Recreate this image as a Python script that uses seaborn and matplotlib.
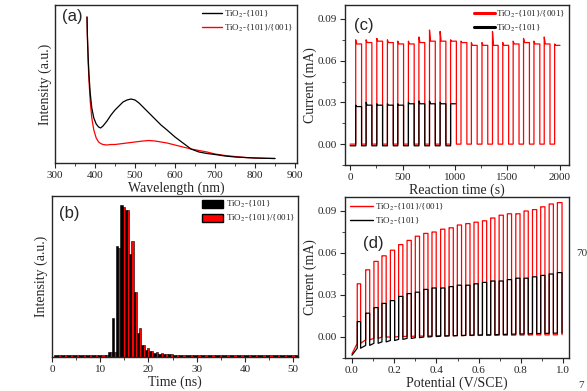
import numpy as np
import pandas as pd
import matplotlib
matplotlib.use("Agg")
import matplotlib.pyplot as plt
import seaborn as sns
from matplotlib.lines import Line2D
from matplotlib.patches import Patch
from matplotlib.ticker import MultipleLocator, NullLocator, FormatStrFormatter

# ---------------- data ----------------
LAB_101 = "TiO$_2$-{101}"
LAB_001 = "TiO$_2$-{101}/{001}"

# (a) PL spectra
wl = [380, 381, 383, 385, 388, 392, 397, 403, 409, 414, 420, 430, 440, 450, 460, 470,
      480, 490, 500, 510, 520, 535, 550, 565, 580, 600, 620, 640, 660, 680, 700, 725,
      750, 775, 800, 825, 850]
pl_101 = [146, 128, 105, 88, 70, 55, 45, 39, 36, 35, 37, 42, 48, 53, 57, 61,
          63, 64, 63, 60, 56, 50, 44, 38, 33, 26, 20, 14, 11, 9.5, 8.5, 7,
          6, 5.5, 5, 4.7, 4.5]
pl_001 = [146, 125, 100, 82, 62, 45, 33, 25, 21, 19.5, 18.5, 18, 18.5, 18.5, 19, 19.5,
          20, 20.5, 21, 21.5, 22, 22.5, 22, 21, 20, 18, 16, 14, 12.5, 11, 9, 7.5,
          6.5, 5.5, 5, 4.7, 4.5]

# (b) lifetime histogram (bin edges in ns, normalised counts)
tr_edges = [0.5, 1.8, 3.1, 4.4, 5.7, 7.0, 8.3, 9.6, 10.9, 11.6, 12.4, 13.3, 14.2, 15.1,
            16.0, 16.9, 17.7, 18.5, 19.3, 20.1, 21.0, 22.0, 23.0, 24.0, 25.0, 26.3,
            27.8, 29.3, 30.8, 32.3, 33.8, 35.3, 36.8, 38.3, 39.8, 41.3, 42.8, 44.3,
            45.8, 47.3, 48.8, 50.3, 51.8]
tr_101 = [0.012, 0.012, 0.012, 0.012, 0.012, 0.012, 0.012, 0.012, 0.012, 0.03, 0.256,
          0.73, 1.00, 0.97, 0.68, 0.43, 0.16, 0.08, 0.043, 0.037, 0.026, 0.022, 0.02,
          0.018, 0.016, 0.015, 0.013, 0.012, 0.012, 0.012, 0.012, 0.012, 0.012, 0.012,
          0.012, 0.012, 0.012, 0.012, 0.012, 0.012, 0.012, 0.012]
tr_001 = [0.014, 0.014, 0.014, 0.014, 0.014, 0.014, 0.014, 0.014, 0.014, 0.03, 0.03,
          0.715, 0.99, 0.97, 0.765, 0.43, 0.19, 0.08, 0.058, 0.04, 0.03, 0.025, 0.02,
          0.018, 0.016, 0.015, 0.014, 0.014, 0.014, 0.014, 0.014, 0.014, 0.014, 0.014,
          0.014, 0.014, 0.014, 0.014, 0.014, 0.014, 0.014, 0.014]

# (c) chopped photocurrent vs time (s, mA)
c_on_t = [54, 153, 255, 356, 455, 556, 656, 757, 858, 958, 1057, 1156, 1257, 1357,
          1455, 1554, 1653, 1752, 1850, 1949]
c_off_t = [110, 208, 310, 412, 510, 611, 712, 812, 913, 1013, 1113, 1211, 1312, 1411,
           1511, 1610, 1709, 1808, 1905, 2000]
c_001_level = [0.072, 0.073, 0.074, 0.073, 0.072, 0.072, 0.073, 0.074, 0.074, 0.074,
               0.073, 0.071, 0.071, 0.071, 0.071, 0.072, 0.073, 0.072, 0.072, 0.071]
c_001_spike = [0.075, 0.075, 0.076, 0.075, 0.074, 0.074, 0.077, 0.082, 0.081, 0.075,
               0.074, 0.073, 0.073, 0.081, 0.073, 0.074, 0.076, 0.074, 0.077, 0.072]
c_001_dark = 0.0
c_001_end = 2000
c_101_level = [0.027, 0.028, 0.028, 0.028, 0.028, 0.029, 0.029, 0.029, 0.029, 0.029]
c_101_spike = [0.028, 0.030, 0.029, 0.029, 0.029, 0.030, 0.031, 0.031, 0.030, 0.029]
c_101_dark = -0.0012
c_101_end = 1005

# (d) chopped linear sweep (V vs SCE, mA)
d_on_v = [0.025, 0.065, 0.104, 0.142, 0.182, 0.221, 0.261, 0.300, 0.340, 0.379, 0.420,
          0.460, 0.499, 0.539, 0.578, 0.618, 0.657, 0.697, 0.736, 0.776, 0.815, 0.855,
          0.894, 0.934, 0.973]
d_off_v = [0.041, 0.084, 0.124, 0.162, 0.202, 0.241, 0.281, 0.320, 0.360, 0.399, 0.440,
           0.480, 0.519, 0.559, 0.598, 0.638, 0.677, 0.717, 0.756, 0.796, 0.835, 0.875,
           0.914, 0.954, 0.995]
d_001_level = [0.038, 0.048, 0.054, 0.058, 0.062, 0.066, 0.069, 0.072, 0.074, 0.075,
               0.077, 0.078, 0.080, 0.081, 0.082, 0.083, 0.085, 0.087, 0.088, 0.088,
               0.090, 0.091, 0.093, 0.095, 0.096]
d_001_dark = [-0.0045, -0.002, -0.001, 0.0, 0.0, 0.0003, 0.0005, 0.0006, 0.0007, 0.0008,
              0.0009, 0.001, 0.001, 0.0011, 0.0011, 0.0012, 0.0012, 0.0013, 0.0013,
              0.0014, 0.0014, 0.0015, 0.0015, 0.0015, 0.0016]
d_001_start = -0.012
d_101_level = [0.011, 0.017, 0.021, 0.024, 0.026, 0.029, 0.031, 0.032, 0.034, 0.035,
               0.035, 0.036, 0.037, 0.037, 0.038, 0.039, 0.040, 0.040, 0.041, 0.042,
               0.042, 0.043, 0.044, 0.045, 0.046]
d_101_dark = [-0.008, -0.006, -0.0045, -0.0035, -0.0025, -0.0017, -0.001, -0.0005, 0.0,
              0.0003, 0.0006, 0.0008, 0.001, 0.0012, 0.0014, 0.0015, 0.0016, 0.0018,
              0.002, 0.0021, 0.0022, 0.0024, 0.0025, 0.0027, 0.0028]
d_101_start = -0.013


def chopped_trace(on, off, level, spike, dark, start, end, settle):
    """Build the on/off step path from pulse times and current levels."""
    xs, ys = [start], [dark[0] if isinstance(dark, list) else dark]
    for k in range(len(on)):
        if on[k] >= end:
            break
        d = dark[k] if isinstance(dark, list) else dark
        xs += [on[k], on[k], on[k] + settle]
        ys += [d, spike[k], level[k]]
        stop = min(off[k], end)
        xs.append(stop)
        ys.append(level[k])
        if off[k] < end:
            xs.append(off[k])
            ys.append(d)
    return pd.DataFrame({"x": xs, "y": ys})


# ---------------- style ----------------
sns.set_style("ticks")
plt.rcParams["font.family"] = ["Liberation Serif", "DejaVu Serif"]
plt.rcParams["mathtext.fontset"] = "stix"
plt.rcParams["axes.linewidth"] = 1.0
plt.rcParams["xtick.direction"] = "out"
plt.rcParams["ytick.direction"] = "out"
plt.rcParams["xtick.major.size"] = 3.5
plt.rcParams["ytick.major.size"] = 3.5
plt.rcParams["xtick.minor.size"] = 2
plt.rcParams["ytick.minor.size"] = 2
plt.rcParams["xtick.major.pad"] = 2
plt.rcParams["ytick.major.pad"] = 2

W, H = 587, 391
fig = plt.figure(figsize=(W / 100, H / 100), dpi=100)


def add_ax(left, top, right, bottom):
    return fig.add_axes([left / W, 1 - bottom / H, (right - left) / W, (bottom - top) / H])


tick_fs = 8
label_fs = 10
leg_fs = 6.5
panel_font = dict(family="Liberation Sans", fontsize=12)
leg_kw = dict(frameon=False, fontsize=leg_fs, labelspacing=0.3)

# ---------------- (a) ----------------
ax = add_ax(55, 5, 297, 163)
sns.lineplot(x=wl, y=pl_001, color="red", lw=0.9, ax=ax)
sns.lineplot(x=wl, y=pl_101, color="black", lw=0.9, ax=ax)
ax.set_xlim(300, 905)
ax.set_ylim(0, 158)
ax.xaxis.set_major_locator(MultipleLocator(100))
ax.xaxis.set_minor_locator(MultipleLocator(50))
ax.yaxis.set_major_locator(NullLocator())
ax.set_xlabel("Wavelength (nm)", fontsize=label_fs, labelpad=1)
ax.set_ylabel("Intensity (a.u.)", fontsize=label_fs, labelpad=2)
ax.tick_params(labelsize=tick_fs)
ax.text(0.03, 0.93, "(a)", transform=ax.transAxes, va="center", **panel_font)
ax.legend(handles=[Line2D([], [], color="black", lw=1), Line2D([], [], color="red", lw=1)],
          labels=[LAB_101, LAB_001], loc="upper right", handlelength=2.2,
          handletextpad=0.2, borderaxespad=0.1, borderpad=0.3, **leg_kw)

# ---------------- (b) ----------------
ax = add_ax(52, 196, 298, 357)
tr_centers = [(tr_edges[i] + tr_edges[i + 1]) / 2 for i in range(len(tr_edges) - 1)]
df_b = pd.DataFrame({
    "t": tr_centers * 2,
    "w": tr_101 + tr_001,
    "s": [LAB_101] * len(tr_101) + [LAB_001] * len(tr_001),
})
sns.histplot(data=df_b, x="t", weights="w", hue="s", bins=tr_edges, multiple="dodge",
             shrink=1, hue_order=[LAB_101, LAB_001], palette=["black", "red"],
             edgecolor="black", linewidth=0.4, alpha=1, legend=False, ax=ax)
ax.set_xlim(0, 51)
ax.set_ylim(0, 1.06)
ax.xaxis.set_major_locator(MultipleLocator(10))
ax.xaxis.set_minor_locator(MultipleLocator(5))
ax.yaxis.set_major_locator(NullLocator())
ax.set_xlabel("Time (ns)", fontsize=label_fs, labelpad=1)
ax.set_ylabel("Intensity (a.u.)", fontsize=label_fs, labelpad=3)
ax.tick_params(labelsize=tick_fs)
ax.text(0.03, 0.89, "(b)", transform=ax.transAxes, va="center", **panel_font)
ax.legend(handles=[Patch(facecolor="black", edgecolor="black"),
                   Patch(facecolor="red", edgecolor="black")],
          labels=[LAB_101, LAB_001], loc="upper right", handlelength=2.3,
          handleheight=1.1, handletextpad=0.3, borderaxespad=0.1, borderpad=0.25,
          **leg_kw)

# ---------------- (c) ----------------
ax = add_ax(345, 5, 569, 165)
tr_c001 = chopped_trace(c_on_t, c_off_t, c_001_level, c_001_spike, c_001_dark, 0, c_001_end, 10)
tr_c101 = chopped_trace(c_on_t, c_off_t, c_101_level, c_101_spike, c_101_dark, 0, c_101_end, 10)
sns.lineplot(data=tr_c001, x="x", y="y", sort=False, estimator=None, color="red", lw=0.9, ax=ax)
sns.lineplot(data=tr_c101, x="x", y="y", sort=False, estimator=None, color="black", lw=0.9, ax=ax)
ax.set_xlim(-48, 2086)
ax.set_ylim(-0.015, 0.100)
ax.xaxis.set_major_locator(MultipleLocator(500))
ax.xaxis.set_minor_locator(MultipleLocator(250))
ax.yaxis.set_major_locator(MultipleLocator(0.03))
ax.yaxis.set_minor_locator(MultipleLocator(0.015))
ax.yaxis.set_major_formatter(FormatStrFormatter("%.2f"))
ax.set_xlabel("Reaction time (s)", fontsize=label_fs, labelpad=1)
ax.set_ylabel("Current (mA)", fontsize=label_fs, labelpad=1)
ax.tick_params(labelsize=tick_fs)
ax.text(0.04, 0.87, "(c)", transform=ax.transAxes, va="center", **panel_font)
ax.legend(handles=[Line2D([], [], color="red", lw=2.2), Line2D([], [], color="black", lw=2.2)],
          labels=[LAB_001, LAB_101], loc="upper right", handlelength=2.3,
          handletextpad=0.1, borderaxespad=0.1, borderpad=0.3, **leg_kw)

# ---------------- (d) ----------------
ax = add_ax(345, 197, 569, 358)
tr_d001 = chopped_trace(d_on_v, d_off_v, d_001_level, d_001_level, d_001_dark, 0, 1.0, 0.001)
tr_d101 = chopped_trace(d_on_v, d_off_v, d_101_level, d_101_level, d_101_dark, 0, 1.0, 0.001)
tr_d001.loc[0, "y"] = d_001_start
tr_d101.loc[0, "y"] = d_101_start
sns.lineplot(data=tr_d001, x="x", y="y", sort=False, estimator=None, color="red", lw=0.9, ax=ax)
sns.lineplot(data=tr_d101, x="x", y="y", sort=False, estimator=None, color="black", lw=0.9, ax=ax)
ax.set_xlim(-0.033, 1.028)
ax.set_ylim(-0.015, 0.100)
ax.xaxis.set_major_locator(MultipleLocator(0.2))
ax.xaxis.set_minor_locator(MultipleLocator(0.1))
ax.yaxis.set_major_locator(MultipleLocator(0.03))
ax.yaxis.set_minor_locator(MultipleLocator(0.015))
ax.xaxis.set_major_formatter(FormatStrFormatter("%.1f"))
ax.yaxis.set_major_formatter(FormatStrFormatter("%.2f"))
ax.set_xlabel("Potential (V/SCE)", fontsize=label_fs, labelpad=1)
ax.set_ylabel("Current (mA)", fontsize=label_fs, labelpad=1)
ax.tick_params(labelsize=tick_fs)
ax.text(0.08, 0.71, "(d)", transform=ax.transAxes, va="center", **panel_font)
ax.legend(handles=[Line2D([], [], color="red", lw=1), Line2D([], [], color="black", lw=1)],
          labels=[LAB_001, LAB_101], loc="upper left", handlelength=2.6,
          handletextpad=0.2, borderaxespad=0.1, **leg_kw)

# cropped text from neighbouring page content
fig.text(576 / W, 1 - 253 / H, "70", fontsize=8, color="#333333", va="center")
fig.text(578 / W, 1 - 386 / H, "7", fontsize=8, color="#333333", va="center")

fig.savefig("out.png", dpi=100)
